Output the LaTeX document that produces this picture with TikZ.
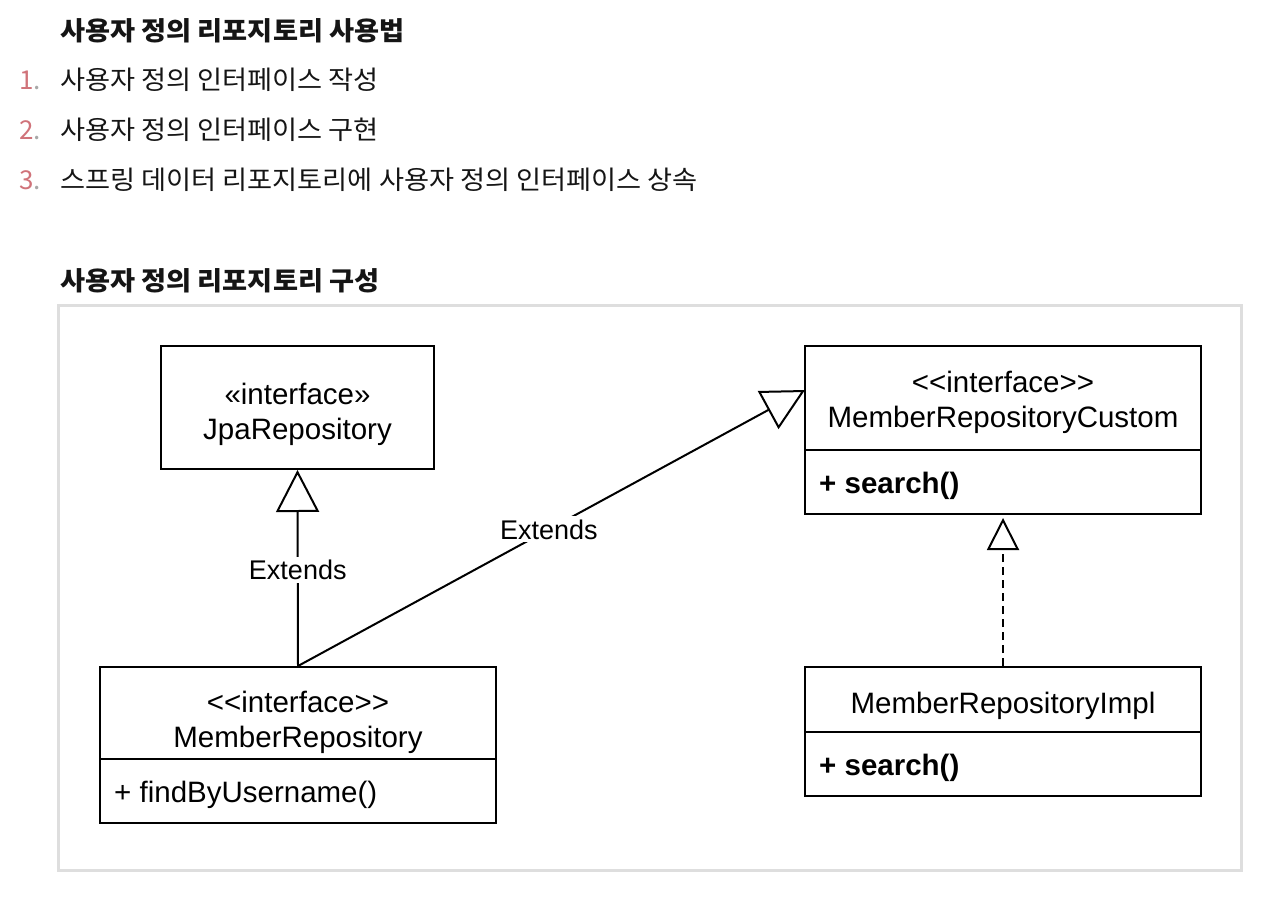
\documentclass[tikz,border=0pt]{standalone}
\usepackage{fontspec}
\setmainfont{Liberation Sans}
\newfontfamily\kr{Noto Sans CJK KR}
\usetikzlibrary{arrows.meta}
\definecolor{numred}{HTML}{D0737A}
\definecolor{dotgray}{HTML}{A8A8A8}
\definecolor{framegray}{HTML}{DEDEDE}
\definecolor{txt}{HTML}{151515}
\newcommand{\krw}[1]{\scalebox{1.047}[1]{#1}}
\begin{document}
\begin{tikzpicture}[x=1pt,y=-1pt,
  umlbox/.style={draw, line width=2pt, inner sep=0pt, rectangle},
  boxtext/.style={inner sep=0pt, anchor=base, font=\fontsize{29.5}{34}\selectfont},
  membertext/.style={inner sep=0pt, anchor=base west, font=\fontsize{29.5}{34}\selectfont},
  lbl/.style={fill=white, inner sep=3pt, font=\fontsize{27}{32}\selectfont},
  krtitle/.style={inner sep=0pt, anchor=base west, text=txt, font=\kr\bfseries\fontsize{26}{30}\selectfont},
  kritem/.style={inner sep=0pt, anchor=base west, text=txt, font=\kr\fontsize{26}{30}\selectfont},
  numtext/.style={inner sep=0pt, anchor=base west, font=\kr\fontsize{26}{30}\selectfont},
  conn/.style={line width=2pt},
  bigtip/.style={-{Triangle[open,length=42pt,width=43pt]}},
  smalltip/.style={-{Triangle[open,length=32pt,width=32pt]}}
]
\useasboundingbox (0,0) rectangle (1282,904);

% headings and list
\node[krtitle] (h1) at (60,41) {\krw{사용자 정의 리포지토리 사용법}};
\node[numtext] (n1) at (19,90) {\color{numred}1\color{dotgray}.};
\node[kritem] (i1) at (60,90) {\krw{사용자 정의 인터페이스 작성}};
\node[numtext] (n2) at (19,140) {\color{numred}2\color{dotgray}.};
\node[kritem] (i2) at (60,140) {\krw{사용자 정의 인터페이스 구현}};
\node[numtext] (n3) at (19,190) {\color{numred}3\color{dotgray}.};
\node[kritem] (i3) at (60,190) {\krw{스프링 데이터 리포지토리에 사용자 정의 인터페이스 상속}};
\node[krtitle] (h2) at (60,290) {\krw{사용자 정의 리포지토리 구성}};

% frame
\node[draw=framegray, line width=3pt, minimum width=1183pt, minimum height=565pt, inner sep=0pt] (frame) at (650,588) {};

% JpaRepository
\node[umlbox, minimum width=273pt, minimum height=123pt] (jpa) at (297.5,407.5) {};
\node[boxtext] (jpa1) at (297.5,404) {«interface»};
\node[boxtext] (jpa2) at (297.5,439) {JpaRepository};

% MemberRepository
\node[umlbox, minimum width=396pt, minimum height=156pt] (mr) at (298,745) {};
\draw[line width=2pt] (mr.west |- 0,759) coordinate (mrdl) -- (mr.east |- 0,759) coordinate (mrdr);
\node[boxtext] (mr1) at (298,712) {<{}<interface>{}>};
\node[boxtext] (mr2) at (298,747) {MemberRepository};
\node[membertext] (mr3) at (114,802) {+ findByUsername()};

% MemberRepositoryCustom
\node[umlbox, minimum width=396pt, minimum height=168pt] (mc) at (1003,430) {};
\draw[line width=2pt] (mc.west |- 0,450) coordinate (mcdl) -- (mc.east |- 0,450) coordinate (mcdr);
\node[boxtext] (mc1) at (1003,392) {<{}<interface>{}>};
\node[boxtext] (mc2) at (1003,427) {MemberRepositoryCustom};
\node[membertext] (mc3) at (819,493) {\bfseries + search()};

% MemberRepositoryImpl
\node[umlbox, minimum width=396pt, minimum height=129pt] (mi) at (1003,731.5) {};
\draw[line width=2pt] (mi.west |- 0,732) coordinate (midl) -- (mi.east |- 0,732) coordinate (midr);
\node[boxtext] (mi1) at (1003,713) {MemberRepositoryImpl};
\node[membertext] (mi2) at (819,775) {\bfseries + search()};

% connectors
\coordinate (mctip) at (805,390);
\draw[conn, bigtip] (mr.north) -- node[lbl, pos=0.49] (e1) {Extends} (jpa.south);
\draw[conn, bigtip] (mr.north) -- node[lbl, pos=0.495] (e2) {Extends} (mctip);
\draw[conn, smalltip, dash pattern=on 8pt off 5pt, shorten >=3pt] (mi.north) -- (mc.south);
\end{tikzpicture}
\end{document}
